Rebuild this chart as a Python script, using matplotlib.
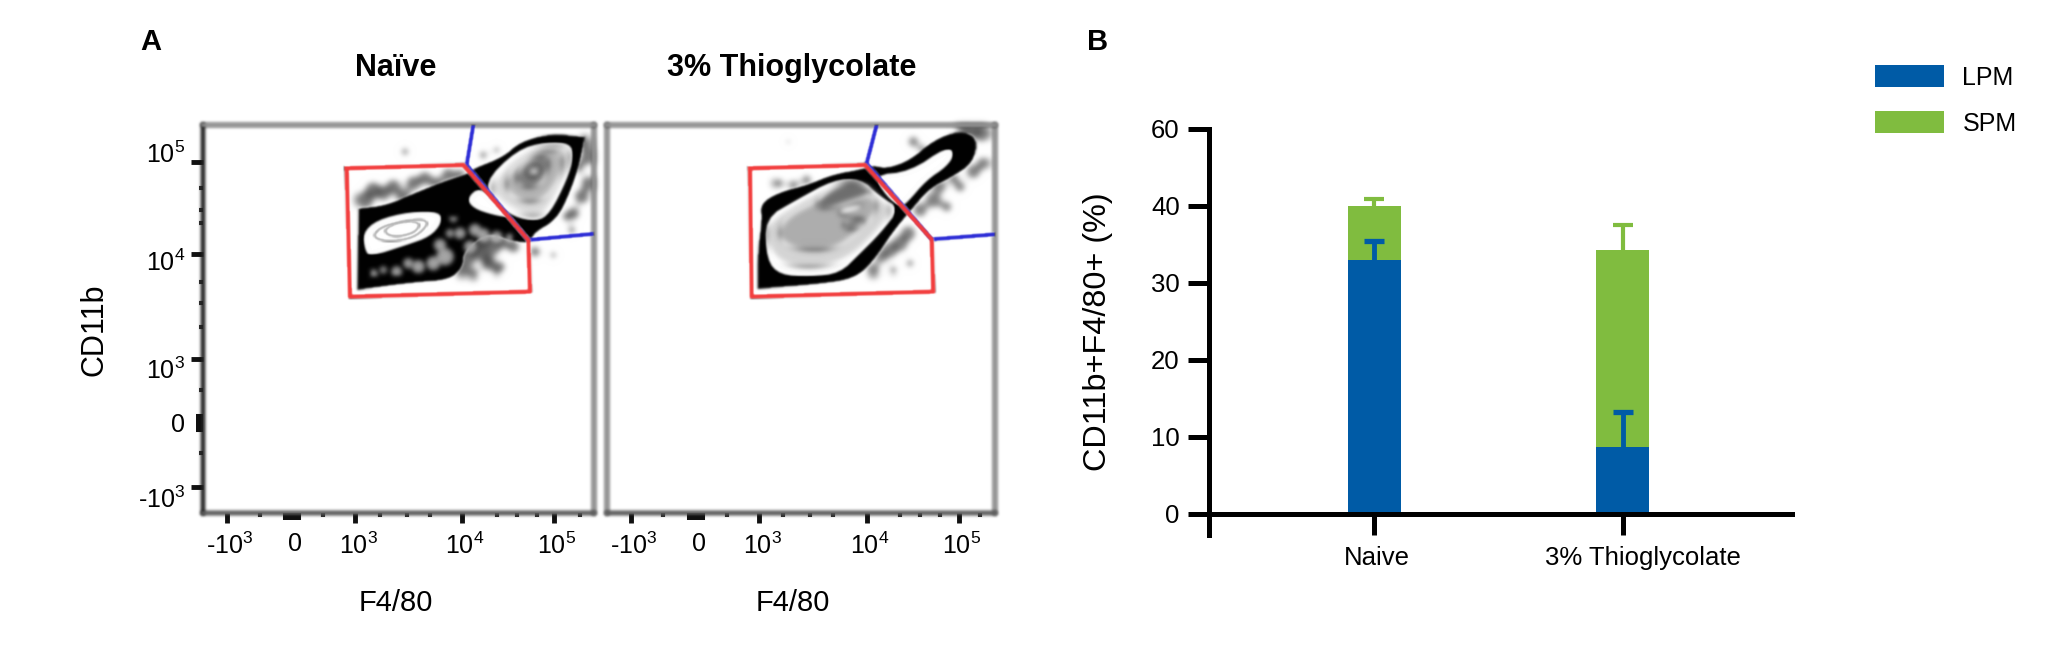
import matplotlib
matplotlib.use("Agg")
import matplotlib.pyplot as plt
import numpy as np
from matplotlib.transforms import ScaledTranslation

plt.rcParams["font.family"] = ["Liberation Sans", "DejaVu Sans"]
plt.rcParams["mathtext.default"] = "regular"

W, H = 2048, 663

# stacked percentages
groups = ["Naive", "3% Thioglycolate"]
lpm = [33.0, 8.7]
spm = [7.0, 25.6]
lpm_err = [2.4, 4.6]
spm_err = [0.9, 3.2]
# the axis goes 0-40 in tens and its last, equally spaced tick reads 60
pct_ticks = [0, 10, 20, 30, 40, 50]
pct_labels = ["0", "10", "20", "30", "40", "60"]
lpm_color = "#005ba6"
spm_color = "#80bc3f"

# flow plot axes, all in display channels
left_limits = (249, 1422)
right_limits = (81, 1245)
y_limits = (1239, 75)
left_xticks = [321, 516, 705, 1026, 1302]
right_xticks = [153, 348, 537, 861, 1137]
left_xminor = [420, 610, 780, 860, 930, 1130, 1190, 1250, 1380]
right_xminor = [250, 440, 610, 690, 760, 960, 1020, 1080, 1200]
fl_ticks = [186, 462, 777, 969, 1161]
fl_yminor = [265, 330, 370, 545, 610, 680, 870, 1060]
x_names = ["-10$^{3}$", "0", "10$^{3}$", "10$^{4}$", "10$^{5}$"]
y_names = ["10$^{5}$", "10$^{4}$", "10$^{3}$", "0", "-10$^{3}$"]
y_name_shift = [10, -6, -9, 0, -10]

# gates, left panel then right panel
red_left = [(680, 205), (1030, 195), (1225, 420), (1230, 575), (690, 590)]
blue_left = [(1060, 75), (1040, 195), (1225, 420), (1415, 402)]
red_right = [(510, 205), (855, 195), (1055, 418), (1060, 575), (515, 590)]
blue_right = [(890, 75), (860, 190), (1055, 418), (1245, 403)]

# naive contours
naive_black = [(715, 325), (715, 325), (800, 315), (880, 280), (980, 240), (1040, 222), (1060, 205),
               (1150, 170), (1200, 125), (1290, 100), (1395, 110), (1395, 110), (1380, 190), (1350, 280),
               (1310, 360), (1240, 400), (1235, 430), (1180, 425), (1110, 400), (1070, 420),
               (1030, 460), (1030, 500), (990, 540), (880, 548), (712, 570), (712, 570)]
naive_white = [
    [(728, 400), (770, 360), (870, 335), (960, 335), (965, 370), (930, 410), (860, 435), (750, 470), (735, 450)],
    [(1040, 295), (1080, 260), (1130, 310), (1180, 355), (1120, 345), (1060, 325)],
    [(1090, 250), (1190, 150), (1280, 125), (1350, 130), (1362, 170), (1340, 240), (1290, 340), (1250, 365), (1180, 350), (1130, 310)],
]
naive_levels = [
    ("#dadada", [(1110, 255), (1190, 165), (1280, 135), (1345, 140), (1350, 190), (1320, 260), (1280, 335), (1240, 350), (1190, 335), (1130, 295)]),
    ("#b4b4b4", [(1150, 250), (1200, 185), (1270, 150), (1330, 160), (1325, 220), (1280, 290), (1230, 310), (1180, 290)]),
    ("#7c7c7c", [(1190, 220), (1230, 175), (1280, 165), (1290, 200), (1260, 255), (1220, 265), (1190, 250)]),
    ("#c4c4c4", [(1215, 222), (1250, 192), (1265, 208), (1240, 235)]),
    ("#ffffff", [(1228, 216), (1250, 204), (1256, 215), (1240, 226)]),
]
naive_rings = [
    [(795, 385), (840, 365), (900, 365), (890, 395), (840, 410), (800, 405)],
    [(755, 410), (790, 375), (910, 355), (925, 375), (880, 415), (800, 425)],
]
naive_fuzz_x = [735, 760, 790, 820, 850, 880, 915, 950, 985, 1020, 855,
                1030, 1060, 1090, 1120, 1150, 1180, 1045, 1075, 1105, 1140, 1025, 1060, 1100, 1130, 1245, 1300,
                1360, 1385, 1405, 1405, 1395, 1375, 1340, 1355, 1090, 1130]
naive_fuzz_y = [300, 270, 280, 260, 290, 250, 235, 250, 225, 225, 155,
                400, 430, 410, 440, 420, 440, 470, 450, 490, 500, 510, 520, 480, 515, 455, 465,
                340, 290, 250, 170, 130, 200, 350, 390, 165, 150]
naive_fuzz_s = [200, 170, 140, 140, 140, 140, 120, 110, 120, 90, 40,
                260, 240, 230, 180, 160, 110, 200, 190, 140, 80, 140, 80, 90, 45, 80, 30,
                110, 140, 140, 160, 120, 90, 60, 45, 45, 30]
naive_holes_x = [760, 790, 830, 865, 895, 940, 975, 960, 1020, 1000, 1065, 990, 1050, 1090, 1130, 1170]
naive_holes_y = [522, 510, 515, 490, 500, 490, 470, 435, 400, 355, 390, 400, 440, 405, 410, 415]
naive_holes_s = [30, 18, 45, 40, 70, 80, 130, 60, 50, 20, 60, 25, 60, 70, 50, 30]

# thioglycolate contours
thio_black = [(533, 567), (533, 567), (533, 450), (545, 360), (540, 310), (600, 275), (680, 255), (760, 222),
              (840, 208), (880, 195), (920, 205), (990, 180), (1060, 120), (1140, 90), (1195, 115),
              (1180, 190), (1110, 235), (1050, 265), (990, 335), (940, 395), (880, 485), (825, 535), (730, 552)]
thio_white = [
    [(555, 355), (650, 300), (760, 240), (840, 235), (900, 290), (960, 325), (900, 400), (840, 460), (780, 520), (690, 530), (600, 525), (560, 480)],
    [(880, 225), (990, 215), (1100, 140), (1125, 160), (1100, 200), (1040, 240), (980, 310), (960, 320), (920, 290)],
]
thio_levels = [
    ("#d4d4d4", [(560, 370), (650, 310), (770, 250), (840, 240), (895, 290), (940, 330), (880, 410), (800, 480), (700, 505), (600, 490), (560, 430)]),
    ("#adadad", [(620, 350), (720, 300), (800, 260), (860, 280), (900, 320), (840, 390), (760, 450), (650, 450), (590, 410)]),
    ("#6e6e6e", [(700, 310), (780, 250), (850, 250), (880, 280), (820, 300), (730, 330)]),
    ("#7e7e7e", [(780, 370), (840, 350), (860, 365), (810, 395)]),
    ("#ffffff", [(770, 335), (840, 310), (850, 315), (790, 350)]),
]
thio_fuzz_x = [1000, 1040, 1080, 1120, 1060, 1020, 1100, 1140, 1180, 1210, 1175, 1205, 1150, 1000, 1030,
               985, 960, 930, 905, 880, 990, 940, 595, 640, 680, 625]
thio_fuzz_y = [265, 240, 260, 235, 300, 330, 320, 260, 215, 190, 85, 100, 80, 125, 150,
               400, 430, 450, 470, 510, 490, 510, 250, 255, 240, 125]
thio_fuzz_s = [130, 130, 110, 80, 160, 130, 80, 80, 130, 110, 260, 190, 170, 80, 60,
               150, 170, 160, 110, 120, 45, 45, 70, 70, 70, 14]


def rounded(points, passes=2):
    # corner cutting so the contours do not look faceted
    pts = np.array(points, dtype=float)
    for _ in range(passes):
        nxt = np.roll(pts, -1, axis=0)
        pts = np.column_stack([0.75 * pts + 0.25 * nxt, 0.25 * pts + 0.75 * nxt]).reshape(-1, 2)
    return pts


def soften(sigma):
    # agg filter: separable gaussian over the rendered artist
    def apply(image, dpi):
        pad = int(sigma * 4)
        r = np.arange(-pad, pad + 1)
        kernel = np.exp(-0.5 * (r / sigma) ** 2)
        kernel /= kernel.sum()
        out = np.pad(image, ((pad, pad), (pad, pad), (0, 0)))
        for axis in (0, 1):
            out = np.apply_along_axis(lambda v: np.convolve(v, kernel, mode="same"), axis, out)
        return out, -pad, -pad
    return apply


def px_axes(x0, x1, top, bottom):
    return fig.add_axes([x0 / W, 1 - bottom / H, (x1 - x0) / W, (bottom - top) / H])


def shift_label(label, dx, dy):
    label.set_transform(label.get_transform() + ScaledTranslation(dx / 100, dy / 100, fig.dpi_scale_trans))


def flow_panel(ax, xlim, xticks, xminor, red, blue):
    ax.set_xlim(*xlim)
    ax.set_ylim(*y_limits)
    ax.set_xticks(xticks)
    ax.set_xticklabels(x_names, fontsize=18)
    ax.set_xticks(xminor, minor=True)
    ax.tick_params(axis="x", which="major", length=7, width=3.5, pad=7, color="#111111")
    ax.tick_params(axis="x", which="minor", length=3, width=3, color="#333333")
    major = ax.xaxis.get_major_ticks()
    major[1].tick1line.set_markeredgewidth(13)
    major[1].tick1line.set_markersize(5)
    for label in ax.get_xticklabels():
        shift_label(label, 3, 0)
    for side in ax.spines.values():
        side.set_color("#8d8d8d")
        side.set_linewidth(3.2)
        side.set_agg_filter(soften(1.0))
    ax.spines["bottom"].set_color("#5a5a5a")
    line = ax.plot([p[0] for p in blue], [p[1] for p in blue], color="#2a2ad6", lw=3, zorder=5)[0]
    line.set_agg_filter(soften(0.8))
    closed = red + red[:1]
    line = ax.plot([p[0] for p in closed], [p[1] for p in closed], color="#f23c3c", lw=3.2, zorder=6)[0]
    line.set_agg_filter(soften(0.8))


def contour_layers(ax, black, white, levels):
    ax.fill(*rounded(black).T, color="black", lw=0, zorder=2)[0].set_agg_filter(soften(1.2))
    for shape in white:
        ax.fill(*rounded(shape).T, color="white", lw=0, zorder=3)[0].set_agg_filter(soften(1.0))
    for shade, shape in levels:
        ax.fill(*rounded(shape).T, color=shade, lw=0, zorder=3)[0].set_agg_filter(soften(3.0))


fig = plt.figure(figsize=(W / 100, H / 100), dpi=100)

# naive flow plot
ax1 = px_axes(203, 594, 125, 513)
flow_panel(ax1, left_limits, left_xticks, left_xminor, red_left, blue_left)
ax1.set_yticks(fl_ticks)
ax1.set_yticklabels(y_names, fontsize=18)
ax1.set_yticks(fl_yminor, minor=True)
ax1.tick_params(axis="y", which="major", length=9, width=3.5, pad=4, color="#111111")
ax1.tick_params(axis="y", which="minor", length=3, width=3, color="#333333")
zero_tick = ax1.yaxis.get_major_ticks()[3]
zero_tick.tick1line.set_markeredgewidth(13)
zero_tick.tick1line.set_markersize(5)
ax1.spines["left"].set_color("#222222")
for label, dy in zip(ax1.get_yticklabels(), y_name_shift):
    shift_label(label, 0, dy)
fuzz = ax1.scatter(naive_fuzz_x, naive_fuzz_y, s=naive_fuzz_s, color="#3a3a3a", alpha=0.7, lw=0, zorder=1)
fuzz.set_agg_filter(soften(2.5))
contour_layers(ax1, naive_black, naive_white, naive_levels)
for shape in naive_rings:
    ring = rounded(shape, 3)
    ax1.plot(*np.vstack([ring, ring[:1]]).T, color="#b5b5b5", lw=1.8, zorder=3)[0].set_agg_filter(soften(0.8))
holes = ax1.scatter(naive_holes_x, naive_holes_y, s=naive_holes_s, color="#a8a8a8", lw=0, zorder=3)
holes.set_agg_filter(soften(1.8))

# thioglycolate flow plot
ax2 = px_axes(607, 995, 125, 513)
flow_panel(ax2, right_limits, right_xticks, right_xminor, red_right, blue_right)
ax2.set_yticks([])
fuzz = ax2.scatter(thio_fuzz_x, thio_fuzz_y, s=thio_fuzz_s, color="#3a3a3a", alpha=0.65, lw=0, zorder=1)
fuzz.set_agg_filter(soften(2.5))
contour_layers(ax2, thio_black, thio_white, thio_levels)

fig.text(140 / W, 1 - 42 / H, "A", fontsize=21, fontweight="bold", ha="left", va="center")
fig.text(1087 / W, 1 - 42 / H, "B", fontsize=21, fontweight="bold", ha="left", va="center")
fig.text(396 / W, 1 - 68 / H, "Naïve", fontsize=22, fontweight="bold", ha="center", va="center")
fig.text(792 / W, 1 - 68 / H, "3% Thioglycolate", fontsize=22, fontweight="bold", ha="center", va="center")
fig.text(396 / W, 1 - 603 / H, "F4/80", fontsize=21, ha="center", va="center")
fig.text(793 / W, 1 - 603 / H, "F4/80", fontsize=21, ha="center", va="center")
fig.text(94 / W, 1 - 330 / H, "CD11b", fontsize=22, rotation=90, ha="center", va="center")

# stacked bars
ax3 = px_axes(1209, 1792, 129, 535)
pos = np.arange(len(groups))
ax3.bar(pos, lpm, width=0.213, color=lpm_color, label="LPM", zorder=2)
ax3.bar(pos, spm, width=0.213, bottom=lpm, color=spm_color, label="SPM", zorder=2)
tops = np.array(lpm) + np.array(spm)
green_err = ax3.errorbar(pos, tops, yerr=[np.zeros(2), spm_err], fmt="none", ecolor=spm_color,
                         elinewidth=3, capsize=7.5, capthick=3, zorder=1)
blue_err = ax3.errorbar(pos, lpm, yerr=[np.zeros(2), lpm_err], fmt="none", ecolor=lpm_color,
                        elinewidth=3.5, capsize=7.5, capthick=3.8, zorder=3)
# upper whiskers only
green_err[1][0].set_visible(False)
blue_err[1][0].set_visible(False)
ax3.set_xlim(-0.663, 1.679)
ax3.set_ylim(-2.73, 50)
ax3.spines["top"].set_visible(False)
ax3.spines["right"].set_visible(False)
ax3.spines["bottom"].set_position(("data", 0))
ax3.spines["left"].set_linewidth(3.6)
ax3.spines["bottom"].set_linewidth(3.6)
ax3.set_xticks(pos)
ax3.set_xticklabels(groups, fontsize=18.5)
ax3.set_yticks(pct_ticks)
ax3.set_yticklabels(pct_labels, fontsize=18.5)
ax3.tick_params(axis="x", length=15, width=3.6, pad=8)
ax3.tick_params(axis="y", length=15, width=3.6, pad=6)
shift_label(ax3.get_xticklabels()[0], 3, 0)
shift_label(ax3.get_xticklabels()[1], 20, 0)
fig.text(1098 / W, 1 - 332 / H, "CD11b+F4/80+ (%)", fontsize=23.3, rotation=90, ha="center", va="center")

fig.legend(loc="upper left", bbox_to_anchor=(1865 / W, 1 - 55 / H), frameon=False, fontsize=18,
           handlelength=2.75, handleheight=1.0, labelspacing=0.85, handletextpad=0.75, borderpad=0.4,
           borderaxespad=0)

fig.savefig("out.png", dpi=100)
